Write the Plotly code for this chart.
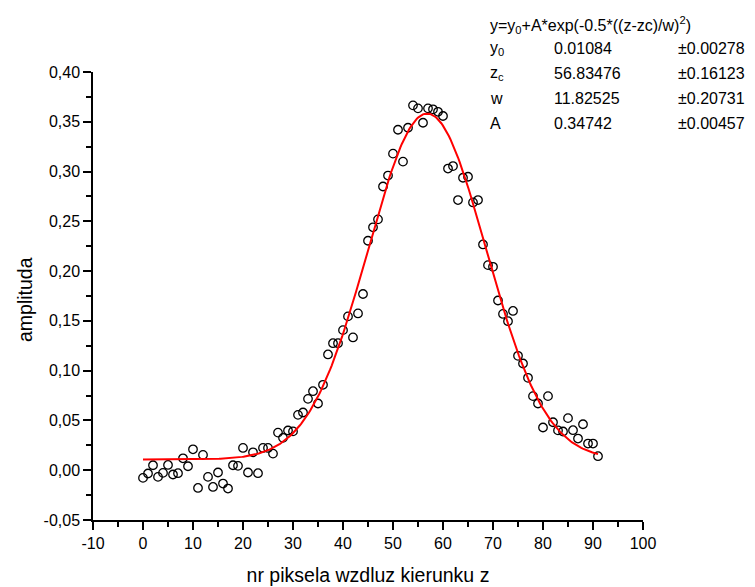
import numpy as np
import plotly.graph_objects as go

# measured amplitude per pixel (z = 0..91)
z_px = list(range(92))
amplitude = [
    -0.0077, -0.0033, 0.0050, -0.0067, -0.0027, 0.0053, -0.0043, -0.0030, 0.0120, 0.0040,
    0.0210, -0.0178, 0.0154, -0.0067, -0.0168, -0.0023, -0.0134, -0.0184, 0.0050, 0.0044,
    0.0224, -0.0023, 0.0180, -0.0030, 0.0224, 0.0224, 0.0167, 0.0378, 0.0325, 0.0399,
    0.0390, 0.0556, 0.0580, 0.0717, 0.0794, 0.0670, 0.0858, 0.1163, 0.1276, 0.1276,
    0.1407, 0.1545, 0.1334, 0.1575, 0.1770, 0.2305, 0.2440, 0.2520, 0.2850, 0.2960,
    0.3180, 0.3420, 0.3100, 0.3440, 0.3665, 0.3635, 0.3490, 0.3635, 0.3625, 0.3600,
    0.3558, 0.3030, 0.3055, 0.2714, 0.2938, 0.2948, 0.2690, 0.2714, 0.2268, 0.2060,
    0.2043, 0.1705, 0.1570, 0.1497, 0.1600, 0.1149, 0.1072, 0.0928, 0.0744, 0.0670,
    0.0429, 0.0744, 0.0482, 0.0400, 0.0389, 0.0523, 0.0402, 0.0318, 0.0462, 0.0268,
    0.0268, 0.0141,
]

# gaussian fit parameters (from the fit table)
Y0, ZC, W, A = 0.01084, 56.83476, 11.82525, 0.34742
fit_rows = [
    ("y<sub>0</sub>", "0.01084", "±0.00278"),
    ("z<sub>c</sub>", "56.83476", "±0.16123"),
    ("w", "11.82525", "±0.20731"),
    ("A", "0.34742", "±0.00457"),
]

x_tickvals = [-10, 0, 10, 20, 30, 40, 50, 60, 70, 80, 90, 100]
x_ticktext = ["-10", "0", "10", "20", "30", "40", "50", "60", "70", "80", "90", "100"]
y_tickvals = [-0.05, 0.0, 0.05, 0.10, 0.15, 0.20, 0.25, 0.30, 0.35, 0.40]
y_ticktext = ["-0,05", "0,00", "0,05", "0,10", "0,15", "0,20", "0,25", "0,30", "0,35", "0,40"]

z_fit = np.linspace(z_px[0], z_px[-1], 300)
y_fit = Y0 + A * np.exp(-0.5 * ((z_fit - ZC) / W) ** 2)

FONT = "Liberation Sans, Arial, sans-serif"

# page body has an 8px margin, so the figure is drawn 8px in from the top-left
OFF = 8
FW, FH = 755 - OFF, 587 - OFF
L, R, T, B = 93 - OFF, 643 - OFF, 72 - OFF, 520 - OFF

fig = go.Figure()
fig.add_trace(go.Scatter(
    x=z_px, y=amplitude, mode="markers",
    marker=dict(symbol="circle-open", size=8.5, color="black", line=dict(width=1.3, color="black")),
))
fig.add_trace(go.Scatter(
    x=z_fit, y=y_fit, mode="lines",
    line=dict(color="#FF0000", width=2),
))

def px(x, y):
    # screen pixel -> paper coords
    return (x - OFF - L) / (R - L), (B - (y - OFF)) / (B - T)

ann = []
ax, ay = px(488, 25)
ann.append(dict(x=ax, y=ay, text="y=y<sub>0</sub>+A*exp(-0.5*((z-zc)/w)<sup>2</sup>)"))
for i, (name, val, err) in enumerate(fit_rows):
    yy = 49 + i * 24.7
    for xx, t in ((488, name), (552, val), (676, err)):
        ax, ay = px(xx, yy)
        ann.append(dict(x=ax, y=ay, text=t))
for a in ann:
    a.update(xref="paper", yref="paper", xanchor="left", yanchor="middle",
             showarrow=False, font=dict(family=FONT, size=16, color="black"))

# y axis title as rotated annotation so it sits where the original does
ax, ay = px(25, 300)
ann.append(dict(x=ax, y=ay, xref="paper", yref="paper", text="amplituda", textangle=-90,
                xanchor="center", yanchor="middle", showarrow=False,
                font=dict(family=FONT, size=19.5, color="black")))

axis_common = dict(
    showline=True, linecolor="black", linewidth=1.5, mirror=False,
    showgrid=False, zeroline=False, automargin=False,
    ticks="outside", ticklen=8, tickwidth=1.5, tickcolor="black",
    tickfont=dict(family=FONT, size=16, color="black"),
)

fig.update_layout(
    width=FW, height=FH,
    paper_bgcolor="white", plot_bgcolor="white",
    margin=dict(l=L, r=FW - R, t=T, b=FH - B),
    showlegend=False,
    annotations=ann,
    xaxis=dict(
        axis_common, range=[-10, 100], tickvals=x_tickvals, ticktext=x_ticktext,
        minor=dict(dtick=5, tick0=-10, ticks="outside", ticklen=5, tickwidth=1.5, tickcolor="black"),
        title=dict(text="nr piksela wzdluz kierunku z", font=dict(family=FONT, size=19.5, color="black"), standoff=17),
    ),
    yaxis=dict(
        axis_common, range=[-0.05, 0.40], tickvals=y_tickvals, ticktext=y_ticktext,
        minor=dict(dtick=0.025, tick0=0, ticks="outside", ticklen=5, tickwidth=1.5, tickcolor="black"),
    ),
)

fig.write_html("out.html")
